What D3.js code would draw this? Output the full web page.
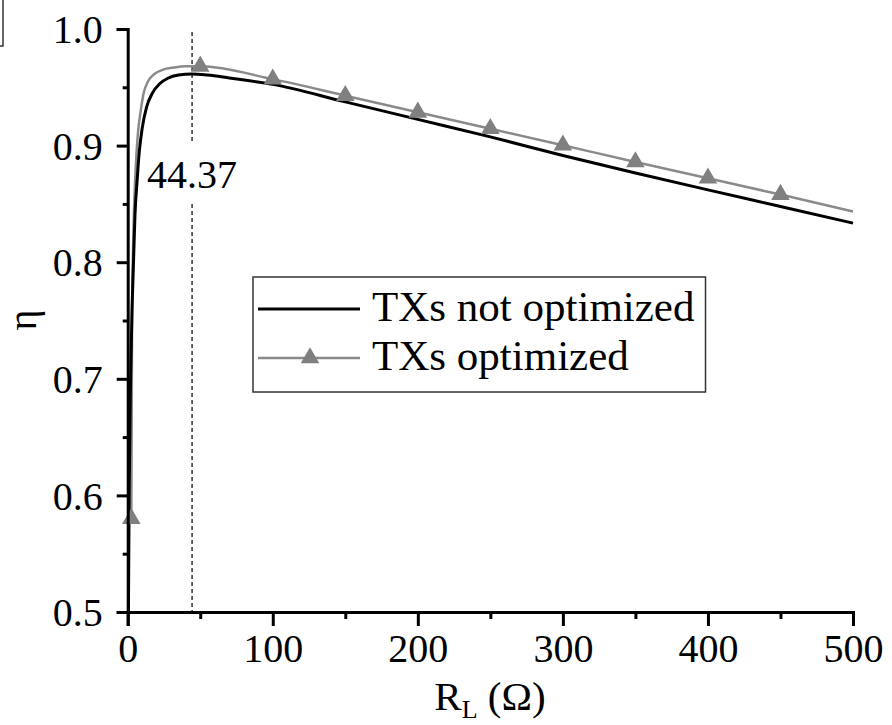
<!DOCTYPE html>
<html><head><meta charset="utf-8">
<script src="https://cdn.jsdelivr.net/npm/d3@7"></script>
<style>html,body{margin:0;padding:0;background:#fff}</style>
</head><body>
<svg id="c" width="892" height="725"></svg>
<script>
// Data
const blackR   = [0.5, 1, 2, 3, 4, 5, 6.5, 8, 10, 13, 17, 22, 28, 35, 44.37, 55, 70, 100, 150, 200, 250, 300, 350, 400, 450, 500];
const blackEta = [0.5, 0.6, 0.7, 0.76, 0.8, 0.84, 0.87, 0.895, 0.915, 0.933, 0.945, 0.953, 0.958, 0.9605, 0.9615, 0.9605, 0.958, 0.9525, 0.9375, 0.9225, 0.9075, 0.8915, 0.8765, 0.862, 0.8478, 0.8335];
const grayR    = [2.5, 3, 3.5, 4.5, 5.5, 7, 9, 11, 14, 18, 24, 32, 40, 50, 100, 150, 200, 250, 300, 350, 400, 450, 500];
const grayEta  = [0.58, 0.75, 0.8, 0.85, 0.88, 0.91, 0.93, 0.945, 0.955, 0.961, 0.965, 0.967, 0.968, 0.968, 0.957, 0.9428, 0.9286, 0.9145, 0.9003, 0.886, 0.872, 0.858, 0.8435];
const markerR   = [2.5, 50, 100, 150, 200, 250, 300, 350, 400, 450];
const markerEta = [0.58, 0.968, 0.957, 0.9428, 0.9286, 0.9145, 0.9003, 0.886, 0.872, 0.858];
const xTicks = [0, 100, 200, 300, 400, 500];
const xMinor = [50, 150, 250, 350, 450];
const yTicks = [0.5, 0.6, 0.7, 0.8, 0.9, 1.0];
const yMinor = [0.55, 0.65, 0.75, 0.85, 0.95];
const markLine = 44.37;
const seriesNames = ["TXs not optimized", "TXs optimized"];

const FONT = '"Liberation Serif"';
const svg = d3.select("#c");
const x = d3.scaleLinear().domain([0, 500]).range([127.7, 853]);
const y = d3.scaleLinear().domain([0.5, 1.0]).range([612, 29]);

// corner fragment
svg.append("path").attr("d","M3,0V46H0").attr("fill","none").attr("stroke","#333").attr("stroke-width",1.5);

// dashed marker line
svg.append("line").attr("x1",x(markLine)).attr("x2",x(markLine)).attr("y1",32).attr("y2",142)
  .attr("stroke","#000").attr("stroke-width",1.2).attr("stroke-dasharray","4,3");
svg.append("line").attr("x1",x(markLine)).attr("x2",x(markLine)).attr("y1",204).attr("y2",y(0.5))
  .attr("stroke","#000").attr("stroke-width",1.2).attr("stroke-dasharray","4,3");
svg.append("text").attr("x",x(markLine)).attr("y",188).attr("text-anchor","middle")
  .style("font-family",FONT).style("font-size","40px").text(markLine.toFixed(2));

const line = d3.line().x(d=>x(d[0])).y(d=>y(d[1])).curve(d3.curveMonotoneX);
svg.append("path").datum(grayR.map((r,i)=>[r,grayEta[i]])).attr("d",line)
  .attr("fill","none").attr("stroke","#8a8a8a").attr("stroke-width",2.5);
svg.append("path").datum(blackR.map((r,i)=>[r,blackEta[i]])).attr("d",line)
  .attr("fill","none").attr("stroke","#000").attr("stroke-width",3);
const tri = d3.symbol().type(d3.symbolTriangle).size(150);
svg.selectAll(".m").data(markerR.map((r,i)=>[r,markerEta[i]])).enter().append("path")
  .attr("d",tri).attr("transform",d=>`translate(${x(d[0])},${y(d[1])})`).attr("fill","#808080");

// axes
const xa = svg.append("g").attr("transform",`translate(0,${y(0.5)})`)
  .call(d3.axisBottom(x).tickValues(xTicks).tickSize(14).tickPadding(8).tickFormat(d3.format("d")));
const xm = svg.append("g").attr("transform",`translate(0,${y(0.5)})`)
  .call(d3.axisBottom(x).tickValues(xMinor).tickSize(7).tickFormat(""));
const ya = svg.append("g").attr("transform",`translate(${x(0)},0)`)
  .call(d3.axisLeft(y).tickValues(yTicks).tickSize(11).tickPadding(14).tickFormat(d3.format(".1f")));
const ym = svg.append("g").attr("transform",`translate(${x(0)},0)`)
  .call(d3.axisLeft(y).tickValues(yMinor).tickSize(5).tickFormat(""));
[xa,xm,ya,ym].forEach(g=>{
  g.attr("font-family",null).attr("font-size",null);
  g.selectAll("path.domain").attr("stroke","#000").attr("stroke-width",3);
  g.selectAll("line").attr("stroke","#000").attr("stroke-width",3);
  g.selectAll("text").style("font-family",FONT).style("font-size","40px").attr("fill","#000");
});
xm.select("path.domain").remove(); ym.select("path.domain").remove();
ya.selectAll("text").attr("dy","0.34em");

// axis titles
svg.append("text").attr("transform","translate(36,320) rotate(-90)").attr("text-anchor","middle")
  .style("font-family",FONT).style("font-size","40px").text("η");
const xt = svg.append("text").attr("x",490).attr("y",710).attr("text-anchor","middle")
  .style("font-family",FONT).style("font-size","41px");
xt.append("tspan").text("R");
xt.append("tspan").style("font-size","26px").attr("dy",8).text("L");
xt.append("tspan").attr("dy",-8).text(" (Ω)");

// legend
const lg = svg.append("g");
lg.append("rect").attr("x",253).attr("y",277).attr("width",452.5).attr("height",115)
  .attr("fill","#fff").attr("stroke","#333").attr("stroke-width",1.5);
lg.append("line").attr("x1",258).attr("x2",360).attr("y1",309).attr("y2",309).attr("stroke","#000").attr("stroke-width",3);
lg.append("line").attr("x1",258).attr("x2",360).attr("y1",358).attr("y2",358).attr("stroke","#8a8a8a").attr("stroke-width",2.5);
lg.append("path").attr("d",tri).attr("transform","translate(310,358)").attr("fill","#808080");
lg.append("text").attr("x",372).attr("y",321).style("font-family",FONT).style("font-size","43px").text(seriesNames[0]);
lg.append("text").attr("x",372).attr("y",370).style("font-family",FONT).style("font-size","43px").text(seriesNames[1]);
</script>
</body></html>
